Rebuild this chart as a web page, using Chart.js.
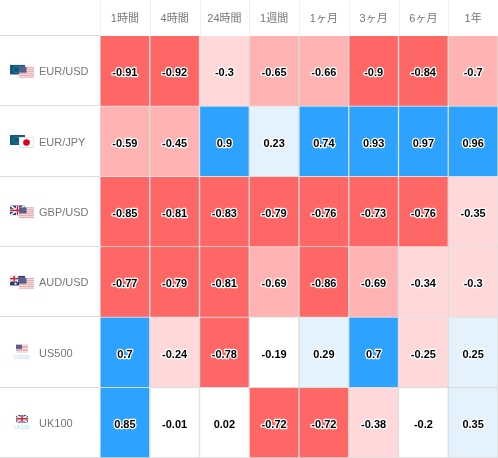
<!DOCTYPE html>
<html>
<head>
<meta charset="utf-8">
<style>
  html, body { margin: 0; padding: 0; background: #fff; }
  #box { width: 498px; height: 458px; }
</style>
<script src="https://cdn.jsdelivr.net/npm/chart.js@4"></script>
</head>
<body>
<div id="box"><canvas id="grafica"></canvas></div>
<script>
const periodos = ['1時間', '4時間', '24時間', '1週間', '1ヶ月', '3ヶ月', '6ヶ月', '1年'];
const pares = ['EUR/USD', 'EUR/JPY', 'GBP/USD', 'AUD/USD', 'US500', 'UK100'];

const eurUsd = [-0.91, -0.92, -0.3, -0.65, -0.66, -0.9, -0.84, -0.7];
const eurJpy = [-0.59, -0.45, 0.9, 0.23, 0.74, 0.93, 0.97, 0.96];
const gbpUsd = [-0.85, -0.81, -0.83, -0.79, -0.76, -0.73, -0.76, -0.35];
const audUsd = [-0.77, -0.79, -0.81, -0.69, -0.86, -0.69, -0.34, -0.3];
const us500 = [0.7, -0.24, -0.78, -0.19, 0.29, 0.7, -0.25, 0.25];
const uk100 = [0.85, -0.01, 0.02, -0.72, -0.72, -0.38, -0.2, 0.35];

const filas = [eurUsd, eurJpy, gbpUsd, audUsd, us500, uk100];

function colorCelda(v) {
  if (v <= -0.71) return '#ff6666';
  if (v <= -0.4) return '#ffb3b3';
  if (v < -0.2) return '#ffd9d9';
  if (v < 0.2) return '#ffffff';
  if (v < 0.7) return '#e3f2fd';
  return '#2ea2ff';
}

// una serie por fila, cada celda es una barra flotante [i, i+1]
const series = filas.map((valores, i) => ({
  label: pares[i],
  data: valores.map(() => [i, i + 1]),
  valores: valores,
  backgroundColor: valores.map(colorCelda),
  borderColor: '#dcdcdc',
  borderWidth: 1,
  barPercentage: 1,
  categoryPercentage: 1,
  grouped: false
}));

// banderas chicas a la izquierda de cada par
function bandera(ctx, tipo, x, y, w, h) {
  ctx.save();
  ctx.beginPath();
  ctx.rect(x, y, w, h);
  ctx.clip();
  if (tipo === 'EUR') {
    ctx.fillStyle = '#0b5a85';
    ctx.fillRect(x, y, w, h);
    ctx.strokeStyle = '#7d9a3c';
    ctx.setLineDash([1, 1]);
    ctx.beginPath();
    ctx.arc(x + w / 2 - 1, y + h / 2, h * 0.32, 0, Math.PI * 2);
    ctx.stroke();
    ctx.setLineDash([]);
  } else if (tipo === 'USD') {
    ctx.fillStyle = '#fff';
    ctx.fillRect(x, y, w, h);
    ctx.fillStyle = '#d98a8f';
    for (let i = 0; i < 6; i++) ctx.fillRect(x, y + i * h / 5.5, w, h / 11);
    ctx.fillStyle = '#5a5f8c';
    ctx.fillRect(x, y, w * 0.5, h * 0.55);
  } else if (tipo === 'JPY') {
    ctx.fillStyle = '#fff';
    ctx.fillRect(x, y, w, h);
    ctx.fillStyle = '#e0001b';
    ctx.beginPath();
    ctx.arc(x + w / 2, y + h / 2, h * 0.3, 0, Math.PI * 2);
    ctx.fill();
    ctx.strokeStyle = '#e6e6e6';
    ctx.strokeRect(x + 0.5, y + 0.5, w - 1, h - 1);
  } else if (tipo === 'GBP' || tipo === 'AUD') {
    const uw = tipo === 'GBP' ? w : w * 0.55;
    const uh = tipo === 'GBP' ? h : h * 0.6;
    ctx.fillStyle = '#2a3a7c';
    ctx.fillRect(x, y, w, h);
    ctx.strokeStyle = '#fff';
    ctx.lineWidth = 1.5;
    ctx.beginPath();
    ctx.moveTo(x, y); ctx.lineTo(x + uw, y + uh);
    ctx.moveTo(x + uw, y); ctx.lineTo(x, y + uh);
    ctx.stroke();
    ctx.fillStyle = '#fff';
    ctx.fillRect(x + uw / 2 - 1.5, y, 3, uh);
    ctx.fillRect(x, y + uh / 2 - 1.5, uw, 3);
    ctx.fillStyle = '#d0213a';
    ctx.fillRect(x + uw / 2 - 0.75, y, 1.5, uh);
    ctx.fillRect(x, y + uh / 2 - 0.75, uw, 1.5);
    if (tipo === 'AUD') {
      ctx.fillStyle = '#fff';
      ctx.fillRect(x + w * 0.75, y + 2, 1, 1);
      ctx.fillRect(x + w * 0.85, y + 5, 1, 1);
      ctx.fillRect(x + w * 0.3, y + h - 3, 2, 2);
    }
  }
  ctx.restore();
}

const iconos = [['EUR', 'USD'], ['EUR', 'JPY'], ['GBP', 'USD'], ['AUD', 'USD'], ['USD'], ['GBP']];

const pluginCeldas = {
  id: 'celdas',
  beforeDraw(chart) {
    const { ctx, scales: { x, y }, chartArea } = chart;
    // lineas del encabezado
    ctx.save();
    ctx.strokeStyle = '#f0f0f0';
    ctx.lineWidth = 1;
    periodos.forEach((p, i) => {
      const px = Math.round(x.getPixelForValue(i) - x.width / periodos.length / 2) + 0.5;
      ctx.beginPath();
      ctx.moveTo(px, 0);
      ctx.lineTo(px, chartArea.top);
      ctx.stroke();
    });
    // lineas entre filas, zona de etiquetas
    ctx.strokeStyle = '#dcdcdc';
    for (let i = 0; i <= pares.length; i++) {
      const py = Math.round(y.getPixelForValue(i)) - 0.5;
      ctx.beginPath();
      ctx.moveTo(0, py);
      ctx.lineTo(chartArea.left, py);
      ctx.stroke();
    }
    ctx.restore();
  },
  afterDatasetsDraw(chart) {
    const { ctx, scales: { y } } = chart;
    ctx.save();
    ctx.font = 'bold 11px "Liberation Sans", Arial, sans-serif';
    ctx.textAlign = 'center';
    ctx.textBaseline = 'middle';
    ctx.lineJoin = 'round';
    chart.data.datasets.forEach((ds, d) => {
      chart.getDatasetMeta(d).data.forEach((barra, i) => {
        const py = y.getPixelForValue(d + 0.5) + 2;
        const texto = String(ds.valores[i]);
        ctx.strokeStyle = '#fff';
        ctx.lineWidth = 2.5;
        ctx.strokeText(texto, barra.x, py);
        ctx.fillStyle = '#000';
        ctx.fillText(texto, barra.x, py);
      });
    });
    ctx.restore();

    iconos.forEach((par, i) => {
      const cy = y.getPixelForValue(i + 0.5);
      if (par.length === 2) {
        bandera(ctx, par[0], 10, cy - 6.5, 15, 10);
        bandera(ctx, par[1], 19, cy - 4.5, 15, 11);
      } else {
        bandera(ctx, par[0], 16, cy - 8, 12, 8);
        ctx.save();
        ctx.font = '5px "Liberation Sans", Arial, sans-serif';
        ctx.fillStyle = '#a5dcf5';
        ctx.textAlign = 'center';
        ctx.textBaseline = 'middle';
        ctx.fillText(pares[i], 22, cy + 5);
        ctx.restore();
      }
    });
  }
};

new Chart(document.getElementById('grafica'), {
  type: 'bar',
  data: { labels: periodos, datasets: series },
  plugins: [pluginCeldas],
  options: {
    responsive: true,
    maintainAspectRatio: false,
    animation: false,
    layout: { padding: { left: 39, top: 0, right: 0, bottom: 0 } },
    plugins: { legend: { display: false }, tooltip: { enabled: false } },
    scales: {
      x: {
        position: 'top',
        afterFit(s) { s.height = 36; s.paddingLeft = 0; s.paddingRight = 0; },
        grid: { display: false, drawTicks: false },
        border: { display: false },
        ticks: {
          color: '#777',
          font: { size: 11, family: '"Liberation Sans", "Noto Sans CJK JP", sans-serif' },
          maxRotation: 0,
          padding: 10
        }
      },
      y: {
        reverse: true,
        min: 0,
        max: pares.length,
        afterBuildTicks(s) { s.ticks = pares.map((p, i) => ({ value: i + 0.515 })); },
        afterFit(s) { s.width = 61; s.paddingTop = 0; s.paddingBottom = 0; },
        grid: { display: false, drawTicks: false },
        border: { display: false },
        ticks: {
          color: '#777',
          crossAlign: 'far',
          font: { size: 11, family: '"Liberation Sans", Arial, sans-serif' },
          callback: value => pares[Math.floor(value)]
        }
      }
    }
  }
});
</script>
</body>
</html>
